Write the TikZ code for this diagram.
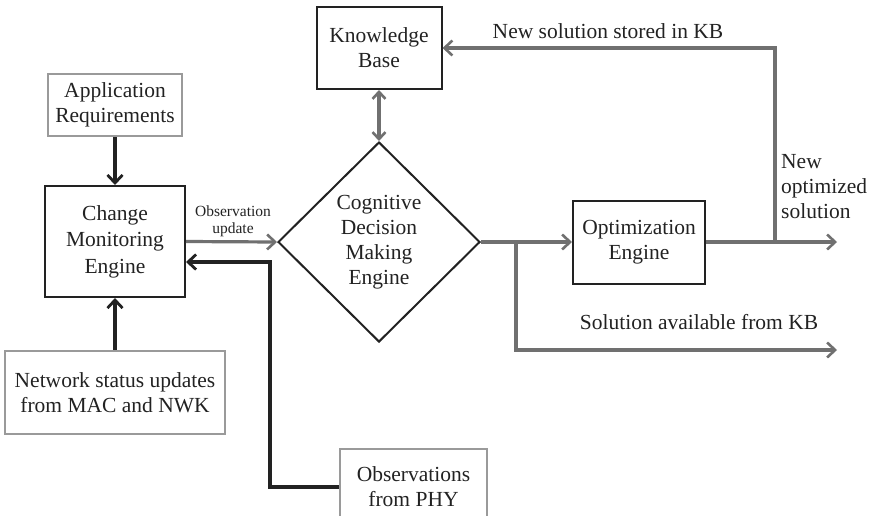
\documentclass[tikz,border=0pt]{standalone}
\usepackage{fontspec}
\setmainfont{Liberation Serif}
\usetikzlibrary{shapes.geometric,arrows.meta}
\definecolor{ink}{HTML}{222222}
\definecolor{flow}{HTML}{707070}
\definecolor{soft}{HTML}{9A9A9A}
\begin{document}
\begin{tikzpicture}[x=1pt,y=-1pt,
  every node/.style={font=\fontsize{21.5}{25}\selectfont, align=center, inner sep=0pt, text=ink},
  blkbox/.style={draw=ink, line width=2pt, rectangle},
  softbox/.style={draw=soft, line width=2.4pt, rectangle},
  flowarr/.style={draw=flow, line width=3.2pt, -{Straight Barb[length=8pt,width=15pt,line width=2.6pt]}},
  inkarr/.style={draw=ink, line width=3.4pt, -{Straight Barb[length=8pt,width=15pt,line width=2.8pt]}},
  lbl/.style={font=\fontsize{21.5}{25}\selectfont},
  smalllbl/.style={font=\fontsize{15.5}{17}\selectfont}
]
\useasboundingbox (0,0) rectangle (875,515);

% blocks
\node[softbox, minimum width=134pt, minimum height=62pt] (app) at (115,105) {Application\\Requirements};
\node[blkbox, minimum width=140pt, minimum height=111pt, font=\fontsize{21.5}{26.5}\selectfont] (cme) at (115,241.5) {Change\\Monitoring\\Engine};
\node[softbox, minimum width=220pt, minimum height=83pt] (net) at (115,392.5) {Network status updates\\from MAC and NWK};
\node[softbox, minimum width=147pt, minimum height=76pt] (phy) at (413.5,487) {Observations\\from PHY};
\node[blkbox, minimum width=125pt, minimum height=82pt] (kb) at (379,48) {Knowledge\\Base};
\node[draw=ink, line width=2pt, shape=diamond, aspect=1, minimum width=202pt, minimum height=200pt] (cdm) at (379,242) {Cognitive\\Decision\\Making\\Engine};
\node[blkbox, minimum width=132pt, minimum height=83pt] (opt) at (639,242) {Optimization\\Engine};

% helper points
\coordinate (bend) at (270,262);
\coordinate (fbk) at (775,242);
\coordinate (optout) at (837,242);
\coordinate (br) at (516,242);
\coordinate (kbout) at (837,350);

% black inputs
\draw[inkarr] (app.south) -- (cme.north);
\draw[inkarr] (net.north) -- (cme.south);
\draw[inkarr] (phy.west) -| (bend) -- (cme.east |- bend);

% gray flow
\draw[flowarr] (cme.east) -- (cdm.west);
\draw[draw=flow, line width=3.2pt, {Straight Barb[length=7pt,width=13pt,line width=2.6pt]}-{Straight Barb[length=7pt,width=13pt,line width=2.6pt]}] (kb.south) -- (cdm.north);
\draw[flowarr] (cdm.east) -- (opt.west);
\draw[flowarr] (opt.east) -- (optout);
\draw[flowarr] (fbk) |- (kb.east);
\draw[flowarr] (br) |- (kbout);

% labels
\node[smalllbl] (obs) at (233,221) {Observation\\update};
\node[lbl] (stored) at (608,31) {New solution stored in KB};
\node[lbl, align=left, anchor=west] (newopt) at (781,187) {New\\optimized\\solution};
\node[lbl] (avail) at (699,322) {Solution available from KB};
\end{tikzpicture}
\end{document}
